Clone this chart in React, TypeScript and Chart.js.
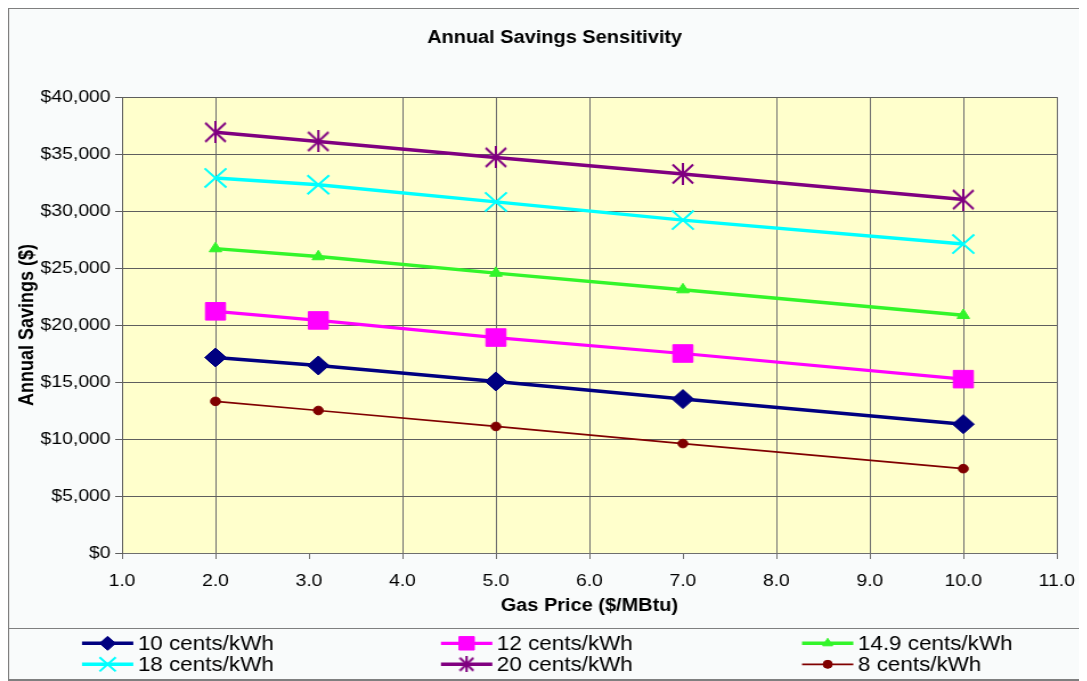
import React, { useEffect, useRef } from 'react';
import { Chart, registerables } from 'chart.js';
import { drawPoint } from 'chart.js/helpers';

Chart.register(...registerables);

// ---------- data ----------
const gasPrices = [2.0, 3.1, 5.0, 7.0, 10.0];
const seriesLabels = ['10 cents/kWh', '12 cents/kWh', '14.9 cents/kWh', '18 cents/kWh', '20 cents/kWh', '8 cents/kWh'];
const savings10 = [17150, 16450, 15050, 13500, 11300];
const savings12 = [21200, 20400, 18900, 17500, 15250];
const savings149 = [26700, 26000, 24550, 23100, 20850];
const savings18 = [32900, 32300, 30800, 29200, 27100];
const savings20 = [36900, 36100, 34700, 33250, 31000];
const savings8 = [13300, 12500, 11100, 9600, 7400];
const yMin = 0;
const yMax = 40000;
const yStep = 5000;
const xMin = 1;
const xMax = 11;
const xStep = 1;
const chartTitle = 'Annual Savings Sensitivity';
const xTitle = 'Gas Price ($/MBtu)';
const yTitle = 'Annual Savings ($)';

const FONT = "'Liberation Sans', Arial, sans-serif";
const STRETCH = 1.14;
const CW = 959;
const CH = 673;

function makeStar(color: string, s: number) {
  const w = Math.round(20 * s);
  const h = Math.round(22 * s);
  const c = document.createElement('canvas');
  c.width = w;
  c.height = h;
  const g = c.getContext('2d')!;
  g.strokeStyle = color;
  g.lineWidth = 2;
  g.beginPath();
  g.moveTo(1, 1.5);
  g.lineTo(w - 1, h - 1.5);
  g.moveTo(w - 1, 1.5);
  g.lineTo(1, h - 1.5);
  g.moveTo(w / 2, 0);
  g.lineTo(w / 2, h);
  g.stroke();
  return c;
}

export default function App() {
  const ref = useRef<HTMLCanvasElement | null>(null);

  useEffect(() => {
    document.body.style.overflow = 'hidden';
    document.documentElement.style.overflow = 'hidden';
    const canvas = ref.current;
    if (!canvas) return;

    const star = makeStar('#800080', 1);
    const starSmall = makeStar('#800080', 0.72);

    const mk = (label: string, vals: number[], color: string, style: any, radius: number, lw: number, pbw: number, legendStyle: any, legendRadius: number) => ({
      label,
      data: gasPrices.map((x, i) => ({ x, y: vals[i] })),
      borderColor: color,
      backgroundColor: color,
      borderWidth: lw,
      pointStyle: style,
      pointRadius: radius,
      pointBackgroundColor: color,
      pointBorderColor: color,
      pointBorderWidth: pbw,
      tension: 0,
      legendStyle,
      legendRadius,
    });

    const datasets: any[] = [
      mk(seriesLabels[0], savings10, '#000080', 'rectRot', 9.5, 3.5, 1, 'rectRot', 7),
      mk(seriesLabels[1], savings12, '#FF00FF', 'rect', 12.4, 3.2, 1, 'rect', 9.5),
      mk(seriesLabels[2], savings149, '#33F52A', 'triangle', 6.3, 3.5, 1, 'triangle', 5),
      mk(seriesLabels[3], savings18, '#00FFFF', 'crossRot', 13.5, 3.5, 2, 'crossRot', 10),
      mk(seriesLabels[4], savings20, '#800080', star, 11, 3.5, 2, starSmall, 8),
      mk(seriesLabels[5], savings8, '#800000', 'circle', 4.3, 1.7, 1, 'circle', 4),
    ];

    const bgPlugin = {
      id: 'bgPlugin',
      beforeDraw(chart: any) {
        const { ctx, width, height, chartArea } = chart;
        ctx.save();
        ctx.fillStyle = '#F9FBFB';
        ctx.fillRect(0, 0, width, height);
        ctx.strokeStyle = '#7F7F7F';
        ctx.lineWidth = 1;
        ctx.strokeRect(0.5, 0.5, width - 1, height - 1);
        ctx.fillStyle = '#FFFFCC';
        ctx.fillRect(chartArea.left, chartArea.top, chartArea.right - chartArea.left, chartArea.bottom - chartArea.top);
        ctx.restore();
      },
    };

    const LEG_X = [64.9, 379.8, 696.5];
    const LEG_Y = [635.3, 656.3];
    const legendPlugin = {
      id: 'boxLegend',
      afterDraw(chart: any) {
        const ctx = chart.ctx;
        ctx.save();
        ctx.strokeStyle = '#7F7F7F';
        ctx.lineWidth = 1;
        ctx.strokeRect(0.5, 620.5, 944, 51);
        chart.data.datasets.forEach((ds: any, i: number) => {
          const col = i % 3;
          const row = Math.floor(i / 3);
          const x0 = LEG_X[col];
          const y = LEG_Y[row];
          ctx.strokeStyle = ds.borderColor;
          ctx.lineWidth = ds.borderWidth;
          ctx.beginPath();
          ctx.moveTo(x0, y);
          ctx.lineTo(x0 + 45, y);
          ctx.stroke();
          ctx.fillStyle = ds.pointBackgroundColor;
          ctx.strokeStyle = ds.pointBorderColor;
          ctx.lineWidth = ds.pointBorderWidth;
          drawPoint(ctx, { pointStyle: ds.legendStyle, radius: ds.legendRadius, rotation: 0, borderWidth: ds.pointBorderWidth } as any, x0 + 22.5, y);
          ctx.fillStyle = '#000';
          ctx.font = `19.7px ${FONT}`;
          ctx.textBaseline = 'middle';
          ctx.textAlign = 'left';
          ctx.fillText(ds.label, x0 + 49, y + 1);
        });
        ctx.restore();
      },
    };

    const chart = new Chart(canvas, {
      type: 'line',
      data: { datasets },
      plugins: [bgPlugin, legendPlugin],
      options: {
        responsive: true,
        maintainAspectRatio: false,
        animation: false,
        events: [],
        layout: { padding: { left: 0, right: 0, top: 0, bottom: 58 } },
        plugins: {
          legend: { display: false },
          tooltip: { enabled: false },
          title: {
            display: true,
            text: chartTitle,
            color: '#000',
            font: { family: FONT, size: 17.5, weight: 'bold' },
            padding: { top: 19.5, bottom: 48.5 },
          },
        },
        scales: {
          x: {
            type: 'linear',
            position: 'bottom',
            min: xMin,
            max: xMax,
            ticks: {
              stepSize: xStep,
              color: '#000',
              font: { family: FONT, size: 17 },
              padding: 12,
              maxRotation: 0,
              autoSkip: false,
              callback: (v: any) => Number(v).toFixed(1),
            },
            grid: {
              color: (c: any) => (c.tick && (c.tick.value === 3 || c.tick.value === 7) ? 'rgba(0,0,0,0)' : '#6E6E6E'),
              tickColor: '#6E6E6E',
              tickLength: 6,
              lineWidth: 1,
            },
            border: { color: '#6E6E6E', width: 1 },
            title: {
              display: true,
              text: xTitle,
              color: '#000',
              font: { family: FONT, size: 17.5, weight: 'bold' },
              padding: { top: 0, bottom: 6 },
            },
            afterFit: (s: any) => {
              s.height = 70;
            },
          },
          y: {
            type: 'linear',
            position: 'left',
            min: yMin,
            max: yMax,
            ticks: {
              stepSize: yStep,
              color: '#000',
              font: { family: FONT, size: 17 },
              padding: 4,
              callback: (v: any) => '$' + Number(v).toLocaleString('en-US'),
            },
            grid: { color: '#5E5E5E', tickColor: '#5E5E5E', tickLength: 6, lineWidth: 1 },
            border: { color: '#5E5E5E', width: 1 },
            title: {
              display: true,
              text: yTitle,
              color: '#000',
              font: { family: FONT, size: 18, weight: 'bold' },
              padding: { top: 6, bottom: 0 },
            },
            afterFit: (s: any) => {
              s.width = 100;
            },
          },
          yr: {
            type: 'linear',
            position: 'right',
            display: true,
            grid: { display: false },
            ticks: { display: false },
            border: { display: false },
            afterFit: (s: any) => {
              s.width = 39;
            },
          },
        },
      } as any,
    });

    return () => {
      chart.destroy();
    };
  }, []);

  return (
    <div style={{ width: CW, height: CH, transform: `scaleX(${STRETCH})`, transformOrigin: '0 0' }}>
      <canvas ref={ref} style={{ display: 'block' }} />
    </div>
  );
}
